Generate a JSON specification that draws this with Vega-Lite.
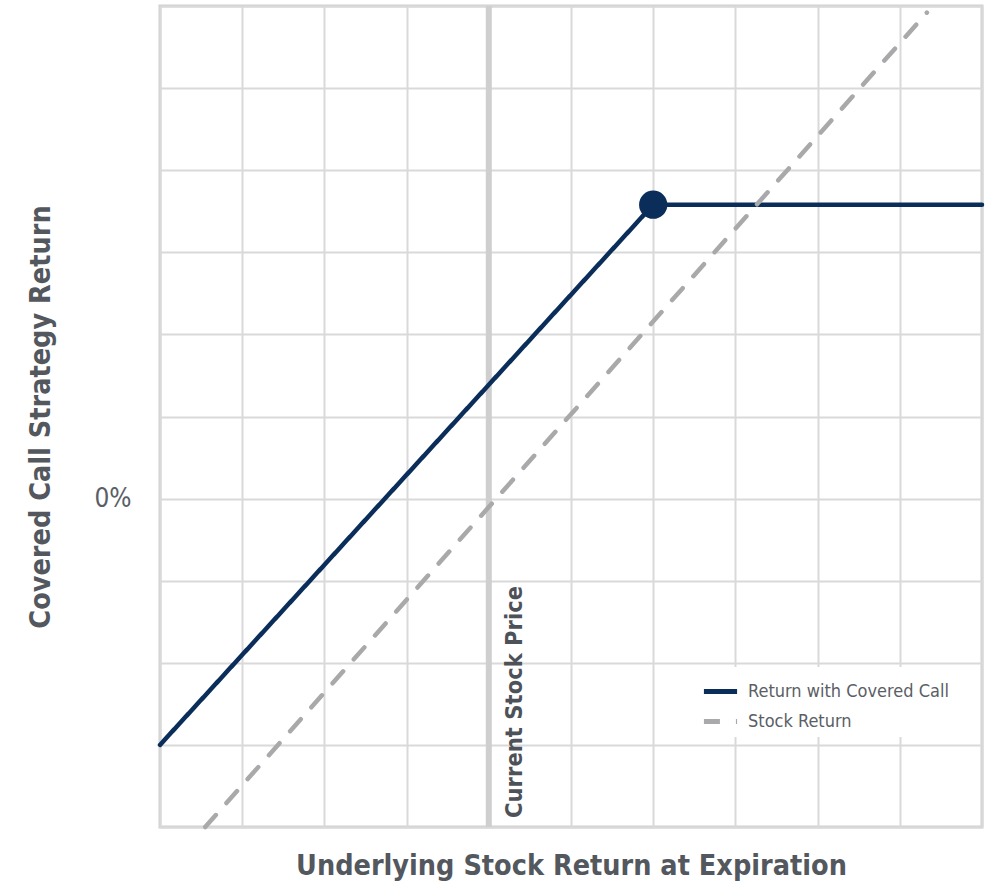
{
  "$schema": "https://vega.github.io/schema/vega-lite/v6.json",
  "autosize": "none",
  "width": 822,
  "height": 821,
  "padding": {"left": 160, "top": 6, "right": 4, "bottom": 62},
  "background": "white",
  "config": {
    "view": {"stroke": "#d0d0d0", "strokeWidth": 3},
    "font": "DejaVu Sans Condensed, sans-serif"
  },
  "datasets": {
    "payoff": [
      {"x": -4, "y": -3, "series": "Return with Covered Call"},
      {"x": 2, "y": 3.58, "series": "Return with Covered Call"},
      {"x": 6, "y": 3.58, "series": "Return with Covered Call"},
      {"x": -3.45, "y": -4, "series": "Stock Return"},
      {"x": 5.33, "y": 5.92, "series": "Stock Return"}
    ],
    "cap": [{"x": 2, "y": 3.58}],
    "current": [{"x": 0, "y": -4, "label": "Current Stock Price"}]
  },
  "layer": [
    {
      "data": {"name": "current"},
      "mark": {"type": "rule", "color": "#cfcfcf", "strokeWidth": 6},
      "encoding": {
        "x": {
          "field": "x", "type": "quantitative",
          "scale": {"domain": [-4, 6], "nice": false, "zero": false},
          "axis": {
            "values": [-4, -3, -2, -1, 0, 1, 2, 3, 4, 5, 6],
            "labels": false, "ticks": false, "domain": false,
            "grid": true, "gridColor": "#d9d9d9", "gridWidth": 2,
            "title": "Underlying Stock Return at Expiration",
            "titleFont": "DejaVu Sans Condensed, sans-serif",
            "titleFontSize": 28.5, "titleFontWeight": "bold", "titleColor": "#53575e",
            "titlePadding": 24
          }
        }
      }
    },
    {
      "data": {"name": "payoff"},
      "mark": {"type": "line", "strokeWidth": 4.5, "strokeCap": "round"},
      "encoding": {
        "x": {"field": "x", "type": "quantitative"},
        "y": {
          "field": "y", "type": "quantitative",
          "scale": {"domain": [-4, 6], "nice": false, "zero": false},
          "axis": {
            "values": [-4, -3, -2, -1, 0, 1, 2, 3, 4, 5, 6],
            "labelExpr": "datum.value === 0 ? '0%' : ''",
            "labelFont": "DejaVu Sans Condensed, sans-serif",
            "labelFontSize": 26, "labelColor": "#5a5e65", "labelPadding": 29,
            "ticks": false, "domain": false,
            "grid": true, "gridColor": "#d9d9d9", "gridWidth": 2,
            "title": "Covered Call Strategy Return",
            "titleFont": "DejaVu Sans Condensed, sans-serif",
            "titleFontSize": 28.5, "titleFontWeight": "bold", "titleColor": "#53575e",
            "titlePadding": 38
          }
        },
        "color": {
          "field": "series", "type": "nominal",
          "scale": {"domain": ["Return with Covered Call", "Stock Return"], "range": ["#0a2d5a", "#a9a9ab"]},
          "legend": {
            "title": null,
            "orient": "none",
            "legendX": 536,
            "legendY": 661,
            "padding": 5,
            "fillColor": "white",
            "symbolType": "stroke",
            "symbolSize": 1100,
            "symbolStrokeWidth": 5,
            "labelFont": "DejaVu Sans Condensed, sans-serif",
            "labelFontSize": 18,
            "labelColor": "#5a5e65",
            "labelOffset": 8,
            "labelLimit": 0,
            "rowPadding": -1
          }
        },
        "strokeDash": {
          "field": "series", "type": "nominal",
          "scale": {"domain": ["Return with Covered Call", "Stock Return"], "range": [[1, 0], [16, 16]]},
          "legend": null
        }
      }
    },
    {
      "data": {"name": "cap"},
      "mark": {"type": "point", "shape": "circle", "filled": true, "opacity": 1, "size": 800, "color": "#0a2d5a"},
      "encoding": {
        "x": {"field": "x", "type": "quantitative"},
        "y": {"field": "y", "type": "quantitative"}
      }
    },
    {
      "data": {"name": "current"},
      "mark": {
        "type": "text", "angle": 270, "align": "left", "baseline": "middle",
        "dx": 9, "dy": 26, "fontSize": 23.5, "fontWeight": "bold", "color": "#4d5259",
        "font": "DejaVu Sans Condensed, sans-serif"
      },
      "encoding": {
        "x": {"field": "x", "type": "quantitative"},
        "y": {"field": "y", "type": "quantitative"},
        "text": {"field": "label"}
      }
    }
  ]
}
